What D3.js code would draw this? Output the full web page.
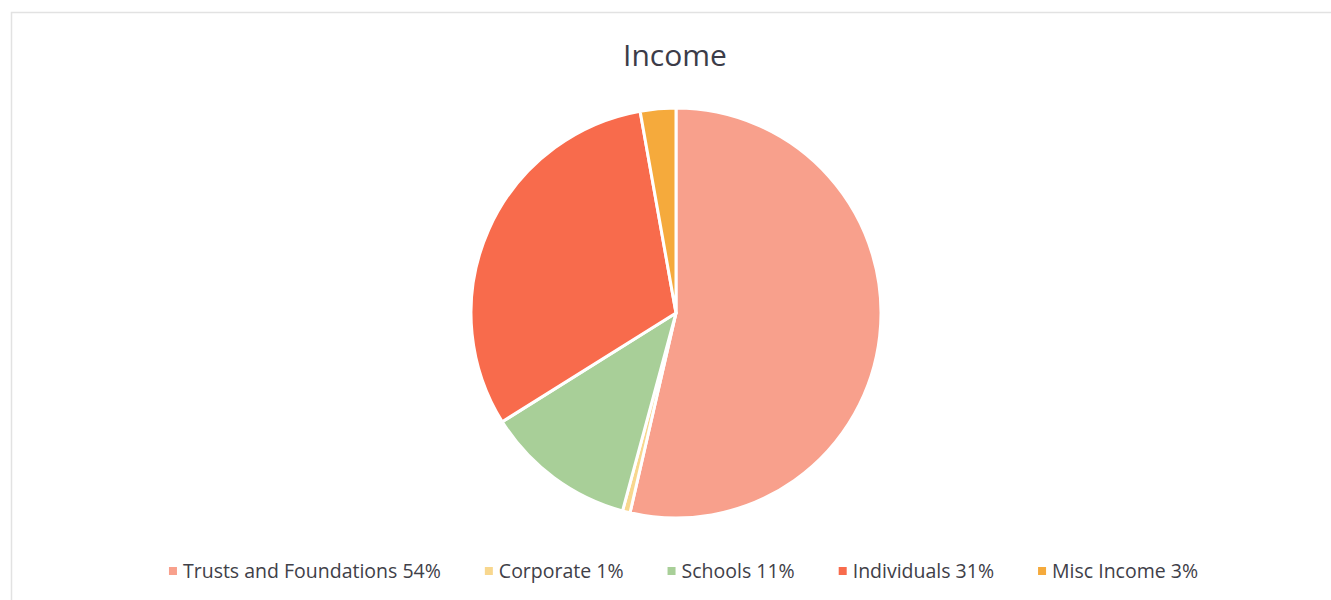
<!DOCTYPE html>
<html>
<head>
    <title>Income</title>
    <script src="https://d3js.org/d3.v7.min.js"></script>
    <style>
        body { margin: 0; background: #fff; }
    </style>
</head>
<body>
    <svg id="chart" width="1331" height="600"></svg>

    <script>
        // data
        const categories = ['Trusts and Foundations', 'Corporate', 'Schools', 'Individuals', 'Misc Income'];
        const values = [53.6, 0.6, 11.9, 31.1, 2.8];
        const legendLabels = ['54%', '1%', '11%', '31%', '3%'];
        const colors = ['#f8a08c', '#f8d78e', '#a8cf98', '#f86b4c', '#f5aa3c'];

        const width = 1331, height = 600;
        const cx = 676, cy = 313, radius = 205;

        const svg = d3.select('#chart');

        // light frame round the chart area
        svg.append('rect')
            .attr('x', 11.5).attr('y', 12.5)
            .attr('width', 1330).attr('height', 600)
            .attr('fill', 'none')
            .attr('stroke', '#e2e2e2')
            .attr('stroke-width', 1.5);

        // title
        svg.append('text')
            .attr('x', 675)
            .attr('y', 66)
            .attr('text-anchor', 'middle')
            .attr('font-family', 'Open Sans, sans-serif')
            .attr('font-size', '30px')
            .attr('fill', '#3c3c48')
            .text('Income');

        const color = d3.scaleOrdinal().domain(categories).range(colors);

        const pie = d3.pie().sort(null).value(d => d.value);
        const arc = d3.arc().innerRadius(0).outerRadius(radius);

        const data = categories.map((c, i) => ({ name: c, value: values[i] }));

        svg.append('g')
            .attr('transform', `translate(${cx},${cy})`)
            .selectAll('path')
            .data(pie(data))
            .join('path')
            .attr('d', arc)
            .attr('fill', d => color(d.data.name))
            .attr('stroke', '#fff')
            .attr('stroke-width', 3)
            .attr('stroke-linejoin', 'round');

        // legend along the bottom
        const legend = svg.append('g').attr('transform', 'translate(0,571)');
        const fontSize = 19.5;
        const items = legend.selectAll('g')
            .data(categories)
            .join('g');

        items.append('rect')
            .attr('y', -4)
            .attr('width', 8).attr('height', 8)
            .attr('fill', d => color(d));

        items.append('text')
            .attr('x', 14)
            .attr('y', 0)
            .attr('dy', '0.35em')
            .attr('font-family', 'Open Sans, sans-serif')
            .attr('font-size', fontSize + 'px')
            .attr('fill', '#404048')
            .text((d, i) => d + ' ' + legendLabels[i]);

        // lay items out side by side, centred
        const gap = 44;
        const widths = [];
        items.each(function () { widths.push(this.getBBox().width); });
        const total = d3.sum(widths) + gap * (widths.length - 1);
        let x = 683.5 - total / 2;
        items.each(function (d, i) {
            d3.select(this).attr('transform', `translate(${x},0)`);
            x += widths[i] + gap;
        });
    </script>
</body>
</html>
